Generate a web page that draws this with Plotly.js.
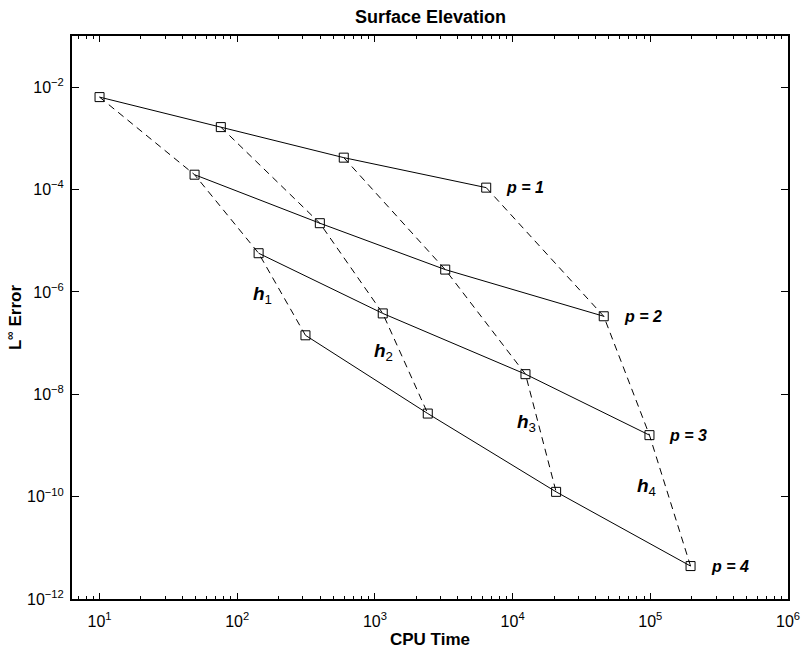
<!DOCTYPE html>
<html>
<head>
<meta charset="utf-8">
<script src="https://cdn.plot.ly/plotly-3.0.1.min.js"></script>
<style>html,body{margin:0;padding:0;background:#fff;}#chart{width:801px;height:653px;}</style>
</head>
<body>
<div id="chart"></div>
<script>
// CPU time and L-infinity error for each polynomial order p (4 mesh levels h1..h4)
const cpuP1 = [10, 76, 594, 6430];
const errP1 = [6.4e-3, 1.66e-3, 4.2e-4, 1.09e-4];
const cpuP2 = [49, 398, 3240, 45900];
const errP2 = [1.95e-4, 2.2e-5, 2.73e-6, 3.34e-7];
const cpuP3 = [143, 1140, 12400, 98600];
const errP3 = [5.7e-6, 3.8e-7, 2.47e-8, 1.59e-9];
const cpuP4 = [313, 2420, 20700, 196000];
const errP4 = [1.42e-7, 4.2e-9, 1.24e-10, 4.4e-12];

const orderLabels = ['p = 1', 'p = 2', 'p = 3', 'p = 4'];
const meshLabels = ['1', '2', '3', '4'];
const xTickVals = [1e1, 1e2, 1e3, 1e4, 1e5, 1e6];
const xTickText = ['1', '2', '3', '4', '5', '6'].map(e => '10<sup>' + e + '</sup>');
const yTickVals = [1e-12, 1e-10, 1e-8, 1e-6, 1e-4, 1e-2];
const yTickText = ['−12', '−10', '−8', '−6', '−4', '−2'].map(e => '10<sup>' + e + '</sup>');

const cpu = [cpuP1, cpuP2, cpuP3, cpuP4];
const err = [errP1, errP2, errP3, errP4];

const FONT = 'Liberation Sans, Arial, Helvetica, sans-serif';
const traces = [];
// solid lines: constant p
for (let i = 0; i < 4; i++) {
  traces.push({
    x: cpu[i], y: err[i], type: 'scatter', mode: 'lines+markers',
    line: {color: 'black', width: 1},
    marker: {symbol: 'square-open', size: 9, color: 'black', line: {width: 1, color: 'black'}},
    showlegend: false, hoverinfo: 'x+y'
  });
}
// dashed lines: constant mesh h
for (let j = 0; j < 4; j++) {
  traces.push({
    x: cpu.map(a => a[j]), y: err.map(a => a[j]), type: 'scatter', mode: 'lines',
    line: {color: 'black', width: 1, dash: '7px,5px'},
    showlegend: false, hoverinfo: 'x+y'
  });
}

// minor tick positions on x (2..9 in each decade)
const minorX = [];
for (let d = 0; d < 6; d++) for (let k = 2; k <= 9; k++) {
  const v = k * Math.pow(10, d);
  if (v > 6.4 && v < 1e6) minorX.push(v);
}

const annotations = [];
for (let i = 0; i < 4; i++) {
  annotations.push({
    x: Math.log10(cpu[i][3]), y: Math.log10(err[i][3]), xref: 'x', yref: 'y',
    text: '<b><i>' + orderLabels[i] + '</i></b>', showarrow: false,
    xanchor: 'left', yanchor: 'middle', xshift: 18,
    font: {family: FONT, size: 16, color: 'black'}
  });
}
const hPos = [[2.184, -6.07], [3.062, -7.18], [4.101, -8.565], [4.972, -9.814]];
for (let j = 0; j < 4; j++) {
  annotations.push({
    x: hPos[j][0], y: hPos[j][1], xref: 'x', yref: 'y',
    text: '<b><i>h</i></b><sub>' + meshLabels[j] + '</sub>', showarrow: false,
    xanchor: 'center', yanchor: 'middle',
    font: {family: FONT, size: 19, color: 'black'}
  });
}

const layout = {
  width: 801, height: 653,
  margin: {l: 72, r: 13, t: 36, b: 54, pad: 0},
  paper_bgcolor: 'white', plot_bgcolor: 'white',
  font: {family: FONT, color: 'black'},
  title: {text: '<b>Surface Elevation</b>', x: 0.5375, xanchor: 'center', y: 0.975, yanchor: 'middle',
          font: {family: FONT, size: 18, color: 'black'}},
  xaxis: {
    type: 'log', range: [0.8, 6], showgrid: false, zeroline: false,
    showline: true, linecolor: 'black', linewidth: 2, mirror: 'allticks',
    ticks: 'inside', ticklen: 6, tickwidth: 1, tickcolor: 'black',
    tickmode: 'array', tickvals: xTickVals, ticktext: xTickText,
    tickfont: {family: FONT, size: 16, color: 'black'}, ticklabelstandoff: 7,
    minor: {ticks: 'inside', ticklen: 3, tickwidth: 1, tickcolor: 'black', tickmode: 'array', tickvals: minorX, showgrid: false},
    title: {text: '<b>CPU Time</b>', font: {family: FONT, size: 17, color: 'black'}, standoff: 4},
    automargin: false
  },
  yaxis: {
    type: 'log', range: [-12, -1], showgrid: false, zeroline: false,
    showline: true, linecolor: 'black', linewidth: 2, mirror: 'allticks',
    ticks: 'inside', ticklen: 7, tickwidth: 1, tickcolor: 'black',
    tickmode: 'array', tickvals: yTickVals, ticktext: yTickText,
    tickfont: {family: FONT, size: 16, color: 'black'}, ticklabelstandoff: 3,
    title: {text: '<b>L<sup>∞</sup> Error</b>', font: {family: FONT, size: 17, color: 'black'}, standoff: 1},
    automargin: false
  },
  annotations: annotations,
  showlegend: false
};

Plotly.newPlot('chart', traces, layout, {displayModeBar: false, staticPlot: true});
</script>
</body>
</html>
